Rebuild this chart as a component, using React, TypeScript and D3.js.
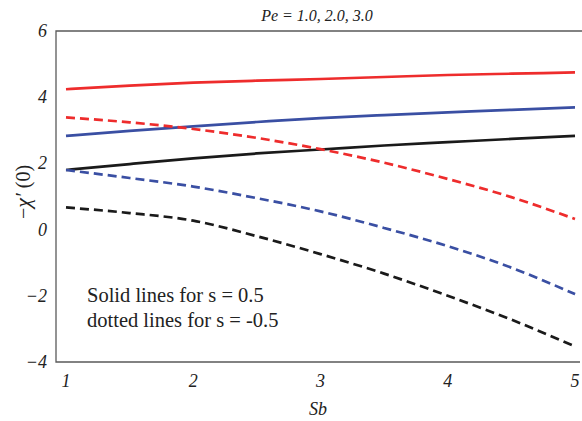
import { useEffect, useRef } from "react";
import * as d3 from "d3";

// Sb values along the x axis
const sbValues = [1, 1.5, 2, 2.5, 3, 3.5, 4, 4.5, 5];

// -chi'(0), solid lines (s = 0.5)
const solidPe1 = [1.8, 1.98, 2.15, 2.3, 2.42, 2.54, 2.64, 2.74, 2.83];
const solidPe2 = [2.83, 2.98, 3.12, 3.25, 3.37, 3.46, 3.54, 3.62, 3.69];
const solidPe3 = [4.24, 4.35, 4.44, 4.5, 4.55, 4.61, 4.67, 4.71, 4.75];

// -chi'(0), dotted lines (s = -0.5)
const dashedPe1 = [0.67, 0.5, 0.27, -0.2, -0.74, -1.33, -2.0, -2.72, -3.53];
const dashedPe2 = [1.8, 1.56, 1.3, 0.95, 0.55, 0.05, -0.5, -1.15, -1.95];
const dashedPe3 = [3.39, 3.24, 3.04, 2.77, 2.43, 2.02, 1.53, 0.98, 0.32];

const xTicks = [1, 2, 3, 4, 5];
const yTicks = [6, 4, 2, 0, -2, -4];

const series = [
  { values: solidPe3, color: "#ee2c2c", dashed: false },
  { values: solidPe2, color: "#3a4fa3", dashed: false },
  { values: solidPe1, color: "#1a1a1a", dashed: false },
  { values: dashedPe3, color: "#ee2c2c", dashed: true },
  { values: dashedPe2, color: "#3a4fa3", dashed: true },
  { values: dashedPe1, color: "#1a1a1a", dashed: true },
];

export default function App() {
  const svgRef = useRef<SVGSVGElement>(null);

  useEffect(() => {
    const svg = d3.select(svgRef.current);
    svg.selectAll("*").remove();

    const width = 582;
    const height = 421;
    const left = 56;
    const right = 582;
    const top = 31;
    const bottom = 362;
    const font = "'Liberation Serif', 'DejaVu Serif', serif";

    const x = d3.scaleLinear().domain([1, 5]).range([66, 575]);
    const y = d3.scaleLinear().domain([-4, 6]).range([bottom, top]);

    svg.attr("width", width).attr("height", height);
    svg.append("rect").attr("width", width).attr("height", height).attr("fill", "#fff");

    // frame: top, left, bottom (no right edge)
    svg
      .append("path")
      .attr("d", `M${right},${top}H${left}V${bottom}H${right - 2}`)
      .attr("stroke", "#5a5a5a")
      .attr("stroke-width", 1.3)
      .attr("fill", "none");

    const line = d3
      .line<number>()
      .x((_, i) => x(sbValues[i]))
      .y(d => y(d))
      .curve(d3.curveMonotoneX);

    svg
      .append("g")
      .selectAll("path")
      .data(series)
      .enter()
      .append("path")
      .attr("d", d => line(d.values))
      .attr("fill", "none")
      .attr("stroke", d => d.color)
      .attr("stroke-width", 2.7)
      .attr("stroke-dasharray", d => (d.dashed ? "9,5" : null));

    // y tick labels
    svg
      .append("g")
      .selectAll("text")
      .data(yTicks)
      .enter()
      .append("text")
      .attr("x", 47)
      .attr("y", d => y(d) + 6)
      .attr("text-anchor", "end")
      .attr("font-family", font)
      .attr("font-style", "italic")
      .attr("font-size", 18)
      .attr("fill", "#222")
      .text(d => (d < 0 ? `\u2212${-d}` : `${d}`));

    // x tick labels
    svg
      .append("g")
      .selectAll("text")
      .data(xTicks)
      .enter()
      .append("text")
      .attr("x", d => x(d))
      .attr("y", 387)
      .attr("text-anchor", "middle")
      .attr("font-family", font)
      .attr("font-style", "italic")
      .attr("font-size", 18)
      .attr("fill", "#222")
      .text(d => `${d}`);

    // axis titles
    svg
      .append("text")
      .attr("x", 318)
      .attr("y", 415)
      .attr("text-anchor", "middle")
      .attr("font-family", font)
      .attr("font-style", "italic")
      .attr("font-size", 18)
      .attr("fill", "#222")
      .text("Sb");

    const yl = svg
      .append("text")
      .attr("transform", "translate(30,192) rotate(-90)")
      .attr("text-anchor", "middle")
      .attr("font-family", font)
      .attr("font-size", 20)
      .attr("fill", "#222");
    yl.append("tspan").text("\u2212");
    yl.append("tspan").attr("font-style", "italic").attr("font-size", 22).text("\u03c7\u2032");
    yl.append("tspan").text(" (0)");

    // title
    svg
      .append("text")
      .attr("x", 317)
      .attr("y", 21)
      .attr("text-anchor", "middle")
      .attr("font-family", font)
      .attr("font-style", "italic")
      .attr("font-size", 16)
      .attr("fill", "#222")
      .text("Pe = 1.0, 2.0, 3.0");

    // note inside the plot
    const note = svg
      .append("g")
      .attr("font-family", font)
      .attr("font-size", 20.5)
      .attr("fill", "#222");
    note.append("text").attr("x", 87).attr("y", 302).text("Solid lines for s = 0.5");
    note.append("text").attr("x", 87).attr("y", 327).text("dotted lines for s = -0.5");
  }, []);

  return (
    <svg
      ref={svgRef}
      style={{ position: "absolute", left: 0, top: 0, display: "block" }}
    />
  );
}
